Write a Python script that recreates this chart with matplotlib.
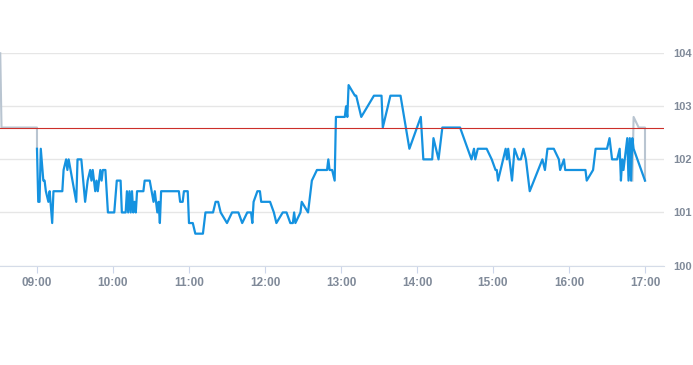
import matplotlib
matplotlib.use("Agg")
import matplotlib.pyplot as plt

plt.rcParams["font.family"] = ["Liberation Sans", "DejaVu Sans"]

# intraday price (session), times as HH:MM
times = ["09:00", "09:01", "09:02", "09:03", "09:05", "09:06", "09:07", "09:09", "09:10", "09:12",
         "09:13", "09:20", "09:21", "09:23", "09:24", "09:25", "09:31", "09:32", "09:35", "09:38",
         "09:40", "09:42", "09:43", "09:44", "09:46", "09:47", "09:48", "09:50", "09:51", "09:52",
         "09:54", "09:56", "10:01", "10:03", "10:06", "10:07", "10:10", "10:11", "10:12", "10:13",
         "10:14", "10:15", "10:16", "10:17", "10:18", "10:19", "10:24", "10:25", "10:29", "10:32",
         "10:33", "10:35", "10:36", "10:37", "10:38", "10:52", "10:53", "10:55", "10:56", "10:59",
         "11:00", "11:03", "11:05", "11:11", "11:13", "11:19", "11:21", "11:23", "11:25", "11:30",
         "11:34", "11:39", "11:42", "11:46", "11:49", "11:50", "11:51", "11:54", "11:56", "11:57",
         "12:04", "12:07", "12:09", "12:14", "12:17", "12:20", "12:22", "12:23", "12:24", "12:28",
         "12:29", "12:34", "12:37", "12:41", "12:49", "12:50", "12:51", "12:53", "12:55", "12:56",
         "13:03", "13:04", "13:05", "13:06", "13:11", "13:12", "13:16", "13:26", "13:32", "13:33",
         "13:39", "13:47", "13:54", "14:03", "14:05", "14:12", "14:13", "14:17", "14:20", "14:34",
         "14:43", "14:45", "14:46", "14:48", "14:55", "14:59", "15:02", "15:03", "15:04", "15:10",
         "15:11", "15:12", "15:14", "15:15", "15:17", "15:20", "15:22", "15:24", "15:26", "15:29",
         "15:39", "15:41", "15:43", "15:48", "15:52", "15:53", "15:56", "15:57", "16:13", "16:14",
         "16:19", "16:21", "16:30", "16:32", "16:34", "16:38", "16:40", "16:41", "16:42", "16:43",
         "16:45", "16:46", "16:47", "16:48", "16:49", "16:50", "16:51", "17:00"]
prices = [102.2, 101.2, 101.2, 102.2, 101.6, 101.6, 101.4, 101.2, 101.4, 100.8,
          101.4, 101.4, 101.8, 102.0, 101.8, 102.0, 101.2, 102.0, 102.0, 101.2,
          101.6, 101.8, 101.6, 101.8, 101.4, 101.6, 101.4, 101.8, 101.6, 101.8,
          101.8, 101.0, 101.0, 101.6, 101.6, 101.0, 101.0, 101.4, 101.0, 101.4,
          101.0, 101.4, 101.0, 101.2, 101.0, 101.4, 101.4, 101.6, 101.6, 101.2,
          101.4, 101.0, 101.2, 100.8, 101.4, 101.4, 101.2, 101.2, 101.4, 101.4,
          100.8, 100.8, 100.6, 100.6, 101.0, 101.0, 101.2, 101.2, 101.0, 100.8,
          101.0, 101.0, 100.8, 101.0, 101.0, 100.8, 101.2, 101.4, 101.4, 101.2,
          101.2, 101.0, 100.8, 101.0, 101.0, 100.8, 100.8, 101.0, 100.8, 101.0,
          101.2, 101.0, 101.6, 101.8, 101.8, 102.0, 101.8, 101.8, 101.6, 102.8,
          102.8, 103.0, 102.8, 103.4, 103.2, 103.2, 102.8, 103.2, 103.2, 102.6,
          103.2, 103.2, 102.2, 102.8, 102.0, 102.0, 102.4, 102.0, 102.6, 102.6,
          102.0, 102.2, 102.0, 102.2, 102.2, 102.0, 101.8, 101.8, 101.6, 102.2,
          102.0, 102.2, 101.8, 101.6, 102.2, 102.0, 102.0, 102.2, 102.0, 101.4,
          102.0, 101.8, 102.2, 102.2, 102.0, 101.8, 102.0, 101.8, 101.8, 101.6,
          101.8, 102.2, 102.2, 102.4, 102.0, 102.0, 102.2, 101.6, 102.0, 101.8,
          102.2, 102.4, 101.6, 102.4, 101.6, 102.4, 102.2, 101.6]

# out-of-session quotes (grey)
pre_times = ["08:31", "08:32", "09:00", "09:00"]
pre_prices = [104.0, 102.6, 102.6, 102.2]
post_times = ["16:50", "16:51", "16:55", "17:00", "17:00"]
post_prices = [101.6, 102.8, 102.6, 102.6, 101.6]

prev_close = 102.6
y_ticks = [100, 101, 102, 103, 104]
x_ticks = ["09:00", "10:00", "11:00", "12:00", "13:00", "14:00", "15:00", "16:00", "17:00"]


def to_hours(t):
    h, m = t.split(":")
    return int(h) + int(m) / 60


fig = plt.figure(figsize=(6.93, 3.65), dpi=100)
ax = fig.add_axes([0, 0.2726, 664 / 693, 0.5815])

ax.plot([to_hours(t) for t in pre_times], pre_prices, color="#b9c5d1", lw=1.5, clip_on=False)
ax.plot([to_hours(t) for t in post_times], post_prices, color="#b9c5d1", lw=1.5)
ax.plot([to_hours(t) for t in times], prices, color="#1592e0", lw=1.6)
ax.axhline(prev_close, color="#cc2f2a", lw=0.8)

ax.set_xlim(to_hours("08:30") + 0.8 / 60, to_hours("17:15"))
ax.set_ylim(100, 104)

ax.set_yticks(y_ticks)
ax.set_xticks([to_hours(t) for t in x_ticks])
ax.set_xticklabels(x_ticks)
ax.yaxis.tick_right()
ax.grid(axis="y", color="#e6e6e6", lw=1)
ax.set_axisbelow(True)
for s in ["top", "left", "right"]:
    ax.spines[s].set_visible(False)
ax.spines["bottom"].set_color("#d5dce8")
ax.tick_params(axis="y", length=0, pad=7, labelsize=8, labelcolor="#808a99")
ax.tick_params(axis="x", length=5, color="#ccd6eb", pad=3, labelsize=8.5, labelcolor="#808a99")
for lab in ax.get_xticklabels() + ax.get_yticklabels():
    lab.set_fontweight("bold")

fig.savefig("out.png", dpi=100)
